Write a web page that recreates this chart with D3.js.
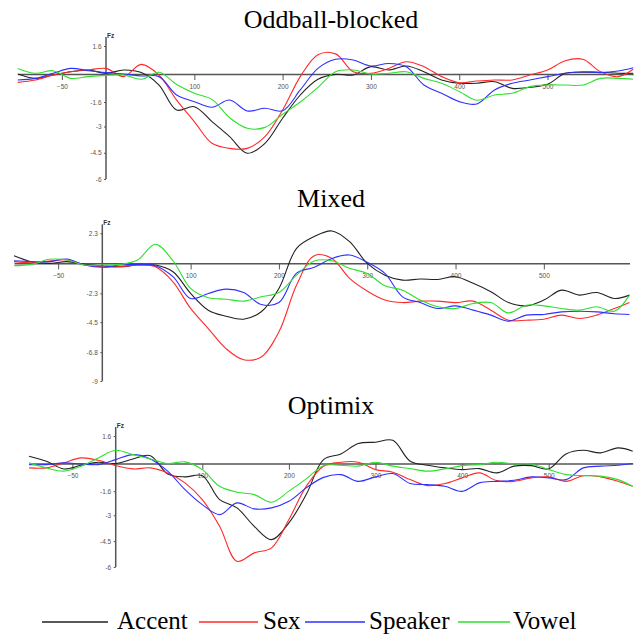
<!DOCTYPE html>
<html>
<head>
<meta charset="utf-8">
<script src="https://cdn.jsdelivr.net/npm/d3@7"></script>
<style>
  body { margin: 0; background: #fff; }
  svg { display: block; }
</style>
</head>
<body>
<svg id="grafico" width="643" height="636"></svg>
<script>
// time points (ms), shared by all series
const tempos = [-100, -80, -60, -40, -20, 0, 20, 40, 60, 80, 100, 120, 140, 160, 180, 200, 220, 240,
  260, 280, 300, 320, 340, 360, 380, 400, 420, 440, 460, 480, 500, 520, 540, 560, 580, 597];

const series = ["Accent", "Sex", "Speaker", "Vowel"];

// Oddball-blocked
const oddAccent = [0, -0.25, -0.06, 0.13, 0.23, 0.04, 0.23, 0.08, -0.63, -2.06, -1.87, -2.72, -3.58, -4.53, -3.96, -2.53, -1.2, -0.3,
  -0.02, -0.06, 0.42, 0.23, 0.46, 0.13, -0.34, -0.53, -0.53, -0.44, -0.82, -0.76, -0.59, 0.04, 0.1, 0.1, 0.04, 0.04];
const oddSex = [-0.48, -0.34, -0.06, 0.13, 0.23, 0.32, -0.15, 0.55, -0.06, -1.49, -2.72, -3.96, -4.25, -4.25, -3.58, -2.06, -0.15, 1.1,
  1.15, 0.13, 0.04, 0.32, 0.7, 0.42, -0.15, -0.5, -0.4, -0.34, -0.34, -0.06, 0.23, 0.76, 0.84, 0.13, -0.15, 0.27];
const oddSpeaker = [-0.34, -0.25, 0.04, 0.32, 0.19, 0.08, 0, -0.11, -0.15, -1.2, -1.58, -1.9, -1.49, -2.11, -1.96, -2.1, -0.91, 0.32,
  0.84, 0.8, 0.46, 0.6, 0.42, -0.63, -1.1, -1.58, -1.71, -0.91, -0.53, -0.34, -0.15, 0.04, 0.13, 0.08, 0.17, 0.36];
const oddVowel = [0.32, 0.04, 0.19, -0.25, -0.15, -0.08, -0.05, -0.3, 0.1, -0.6, -1.1, -1.45, -2.5, -3.1, -3.05, -2.3, -1.6, -0.76,
  0.13, 0.23, 0, 0.04, 0.13, -0.25, -0.53, -1.0, -1.5, -1.2, -1.1, -0.72, -0.63, -0.63, -0.63, -0.25, -0.25, -0.3];

// Mixed
const mixAccent = [0.59, 0.13, 0, 0.13, -0.08, -0.18, -0.26, -0.13, -0.13, -0.64, -2.3, -3.58, -4.04, -4.27, -3.7, -1.92, 1.15, 2.05,
  2.48, 1.66, 0, -0.9, -1.28, -1.2, -1.23, -1.02, -1.53, -2.17, -3.0, -3.25, -2.81, -2.05, -2.43, -2.23, -2.69, -2.43];
const mixSex = [0.13, 0.05, 0.18, 0.26, -0.13, -0.26, -0.26, -0.13, -0.26, -1.41, -3.45, -4.99, -6.52, -7.37, -7.16, -5.24, -1.66, 0.59,
  0.38, -1.15, -2.12, -2.81, -3.0, -2.89, -2.89, -3.0, -2.89, -3.58, -4.35, -4.35, -4.27, -3.96, -4.22, -3.96, -3.45, -3.0];
const mixSpeaker = [0.2, 0.13, 0.13, 0.33, -0.13, -0.3, -0.13, -0.08, -0.18, -1.02, -2.69, -2.3, -1.97, -2.23, -3.15, -3.0, -0.75, -0.3,
  0.38, 0.64, 0.08, -0.77, -2.56, -3.0, -3.45, -3.25, -3.58, -3.96, -4.42, -3.96, -3.91, -3.71, -3.66, -3.71, -3.86, -3.91];
const mixVowel = [-0.18, -0.08, 0.31, 0.26, -0.13, -0.13, -0.08, 0.26, 1.46, 0.2, -1.92, -2.63, -2.74, -2.89, -2.56, -2.23, -0.9, 0.18,
  0.2, -0.38, -0.77, -1.71, -2.05, -2.81, -3.32, -3.45, -3.07, -3.0, -3.79, -3.2, -3.25, -3.45, -3.58, -3.32, -3.66, -2.43];

// Optimix
const optAccent = [0.43, 0.14, -0.31, -0.1, 0.08, 0, 0.27, 0.46, -0.6, -0.77, -0.7, -2.09, -2.57, -3.64, -4.41, -3.44, -1.8, 0.23,
  0.56, 1.16, 1.24, 1.35, 0.14, -0.1, -0.25, -0.35, -0.29, -0.54, -0.15, -0.12, -0.31, 0.56, 0.77, 0.62, 0.91, 0.72];
const optSex = [-0.25, -0.25, 0.04, 0.33, 0.19, -0.12, -0.31, -0.25, -0.54, -1.12, -2.09, -3.64, -5.67, -5.18, -4.89, -3.25, -1.32, -0.15,
  0.08, 0.08, -0.35, -0.5, -0.93, -1.28, -1.16, -0.83, -0.54, -0.99, -1.03, -0.83, -0.77, -1.03, -0.7, -0.77, -1.03, -1.32];
const optSpeaker = [-0.06, -0.06, 0.04, -0.02, -0.06, 0.23, 0.52, 0.27, -0.44, -1.51, -2.38, -2.96, -2.28, -2.63, -2.57, -2.19, -1.41, -0.8,
  -0.64, -1.03, -0.77, -0.58, -1.16, -1.22, -1.32, -1.61, -1.12, -1.03, -0.97, -0.77, -0.83, -0.93, -0.25, -0.15, -0.1, 0];
const optVowel = [0.04, -0.25, -0.44, -0.15, 0.33, 0.77, 0.52, 0.27, 0, 0.1, -0.35, -1.32, -1.66, -1.8, -2.24, -1.6, -0.89, -0.12,
  -0.1, -0.15, 0.08, -0.15, -0.29, -0.44, -0.31, -0.12, -0.06, 0.08, -0.02, -0.02, -0.35, -0.64, -0.7, -0.73, -0.93, -1.32];

// tick labels
const xTicks = [-50, 100, 200, 300, 400, 500];
const yTicksOdd = [1.6, -1.6, -3, -4.5, -6];
const yTicksMix = [2.3, -2.3, -4.5, -6.8, -9];
const yTicksOpt = [1.6, -1.6, -3, -4.5, -6];

const cores = { Accent: "#222", Sex: "#ff2a2a", Speaker: "#2f2fff", Vowel: "#2fe02f" };

const paineis = [
  { titulo: "Oddball-blocked", dados: [oddAccent, oddSex, oddSpeaker, oddVowel], yTicks: yTicksOdd,
    xRange: [17.7, 633.2], yRange: [46, 179], tituloY: 28 },
  { titulo: "Mixed", dados: [mixAccent, mixSex, mixSpeaker, mixVowel], yTicks: yTicksMix,
    xRange: [14, 629.5], yRange: [233.3, 381], tituloY: 207 },
  { titulo: "Optimix", dados: [optAccent, optSex, optSpeaker, optVowel], yTicks: yTicksOpt,
    xRange: [29.1, 632.7], yRange: [436, 567], tituloY: 414 },
];

const svg = d3.select("#grafico");
const corEixo = "#555";
const fonteEixo = "Arial, 'Liberation Sans', sans-serif";

paineis.forEach((p) => {
  const xScale = d3.scaleLinear().domain([tempos[0], tempos[tempos.length - 1]]).range(p.xRange);
  const yScale = d3.scaleLinear()
    .domain([p.yTicks[0], p.yTicks[p.yTicks.length - 1]])
    .range(p.yRange);

  const g = svg.append("g");

  g.append("text")
    .attr("x", 331)
    .attr("y", p.tituloY)
    .attr("text-anchor", "middle")
    .style("font-family", "'Liberation Serif', 'Times New Roman', serif")
    .style("font-size", "26px")
    .text(p.titulo);

  const x0 = xScale(0);
  const y0 = yScale(0);

  // x axis on the zero line
  const xAxis = d3.axisBottom(xScale).tickValues(xTicks).tickSize(6).tickSizeOuter(0).tickPadding(4);
  const gx = g.append("g").attr("transform", `translate(0,${y0})`).call(xAxis);
  gx.select(".domain").attr("stroke", corEixo).attr("stroke-width", 1.5);
  gx.selectAll(".tick line").attr("stroke", corEixo);
  gx.selectAll(".tick text")
    .attr("fill", "#555")
    .style("font-family", fonteEixo)
    .style("font-size", "6.5px");

  // y axis at time 0
  const yAxis = d3.axisLeft(yScale).tickValues(p.yTicks).tickFormat((d) => String(d))
    .tickSize(2).tickSizeOuter(0).tickPadding(2.5);
  const gy = g.append("g").attr("transform", `translate(${x0},0)`).call(yAxis);
  gy.select(".domain").remove();
  gy.append("line")
    .attr("x1", 0).attr("x2", 0)
    .attr("y1", p.yRange[0] - 9).attr("y2", p.yRange[1])
    .attr("stroke", corEixo).attr("stroke-width", 1.5);
  gy.selectAll(".tick line").attr("stroke", corEixo);
  gy.selectAll(".tick text")
    .attr("fill", "#555")
    .style("font-family", fonteEixo)
    .style("font-size", "6.5px");

  g.append("text")
    .attr("x", x0 + 1)
    .attr("y", p.yRange[0] - 8)
    .style("font-family", fonteEixo)
    .style("font-size", "6.5px")
    .style("font-weight", "bold")
    .attr("fill", "#333")
    .text("Fz");

  const line = d3.line()
    .x((_, i) => xScale(tempos[i]))
    .y((v) => yScale(v))
    .curve(d3.curveCatmullRom.alpha(0.5));

  p.dados.forEach((valores, i) => {
    g.append("path")
      .datum(valores)
      .attr("fill", "none")
      .attr("stroke", cores[series[i]])
      .attr("stroke-width", 1.1)
      .attr("d", line);
  });
});

// legend
const legenda = [
  { x1: 42, x2: 108, tx: 117 },
  { x1: 199, x2: 258, tx: 263 },
  { x1: 305, x2: 365, tx: 369 },
  { x1: 458, x2: 510, tx: 513 },
];
const gl = svg.append("g");
series.forEach((s, i) => {
  const l = legenda[i];
  gl.append("line")
    .attr("x1", l.x1).attr("x2", l.x2)
    .attr("y1", 622).attr("y2", 622)
    .attr("stroke", cores[s]).attr("stroke-width", 1.5);
  gl.append("text")
    .attr("x", l.tx).attr("y", 629)
    .style("font-family", "'Liberation Serif', 'Times New Roman', serif")
    .style("font-size", "25px")
    .text(s);
});
</script>
</body>
</html>
